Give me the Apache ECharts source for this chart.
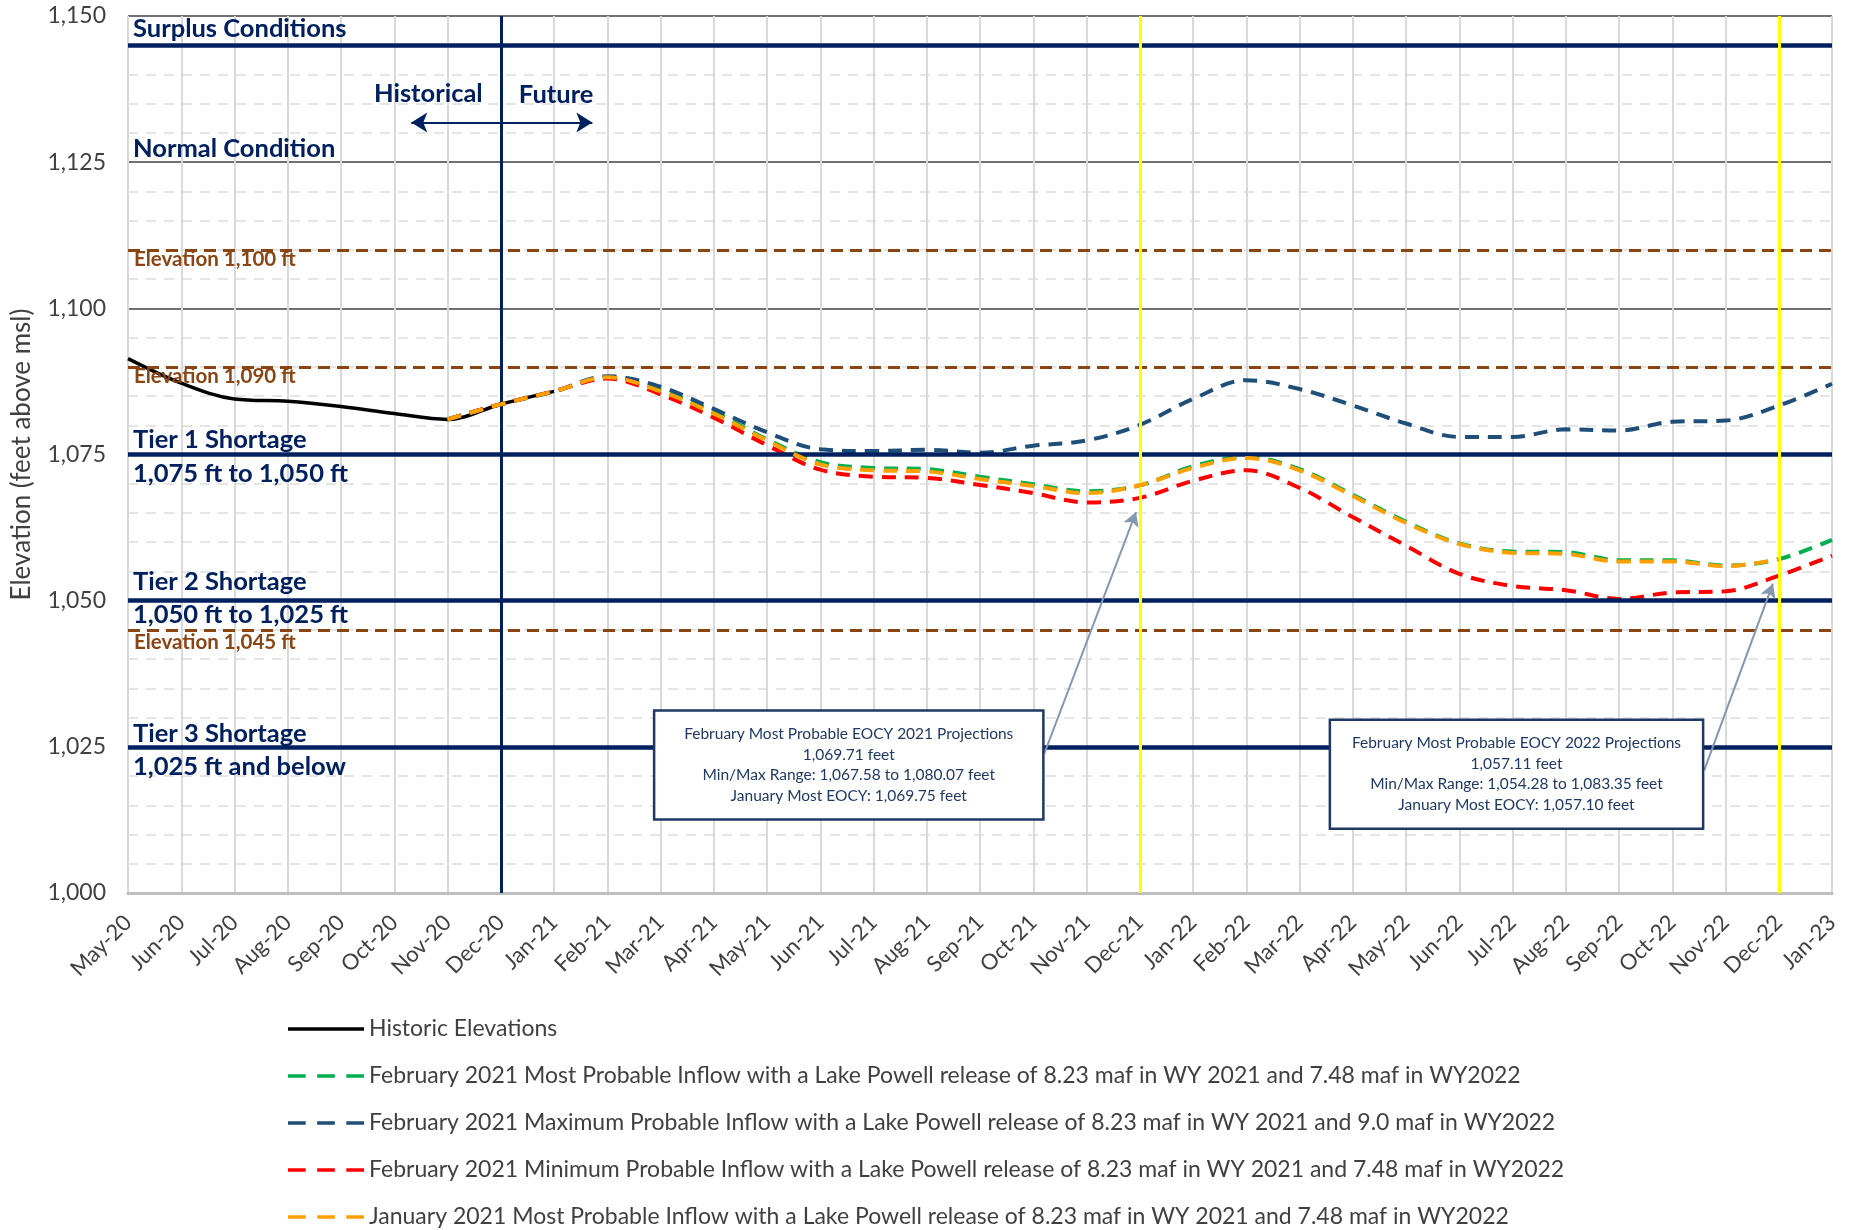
<!DOCTYPE html>
<html>
<head>
<meta charset="utf-8">
<script src="https://cdn.jsdelivr.net/npm/echarts@6/dist/echarts.min.js"></script>
<style>
html,body{margin:0;padding:0;background:#ffffff;}
#c{width:1853px;height:1230px;}
</style>
</head>
<body>
<div id="c"></div>
<script>
// ---------- DATA ----------
const categories = ['May-20','Jun-20','Jul-20','Aug-20','Sep-20','Oct-20','Nov-20','Dec-20',
  'Jan-21','Feb-21','Mar-21','Apr-21','May-21','Jun-21','Jul-21','Aug-21','Sep-21','Oct-21','Nov-21','Dec-21',
  'Jan-22','Feb-22','Mar-22','Apr-22','May-22','Jun-22','Jul-22','Aug-22','Sep-22','Oct-22','Nov-22','Dec-22',
  'Jan-23'];

const historic = [1091.4,1087.2,1084.5,1084.1,1083.2,1082.0,1081.0,1083.6,1085.8];

const febMostProbable = [null,null,null,null,null,null,
  1081.0,1083.6,1085.8,1088.2,1086.0,1082.3,1077.6,1073.7,1072.7,1072.5,1071.2,1069.9,1068.7,1069.71,
  1073.0,1074.6,1072.5,1068.1,1063.5,1059.8,1058.4,1058.3,1056.9,1056.9,1056.0,1057.11,1060.4];

const febMaxProbable = [null,null,null,null,null,null,
  1081.0,1083.6,1085.8,1088.4,1086.6,1082.8,1078.8,1075.9,1075.6,1075.8,1075.3,1076.5,1077.4,1080.07,
  1084.5,1087.7,1086.2,1083.4,1080.3,1078.0,1078.0,1079.3,1079.1,1080.6,1080.8,1083.35,1087.1];

const febMinProbable = [null,null,null,null,null,null,
  1081.0,1083.6,1085.8,1088.0,1085.3,1081.3,1076.6,1072.4,1071.2,1071.0,1069.8,1068.4,1066.8,1067.58,
  1070.5,1072.3,1069.3,1064.3,1059.4,1054.6,1052.5,1051.8,1050.3,1051.4,1051.6,1054.28,1057.7];

const janMostProbable = [null,null,null,null,null,null,
  1081.0,1083.6,1085.8,1088.2,1085.8,1082.0,1077.4,1073.3,1072.3,1072.1,1070.8,1069.6,1068.4,1069.75,
  1072.7,1074.4,1072.3,1067.9,1063.3,1059.7,1058.2,1058.0,1056.7,1056.7,1055.9,1057.10];

const seriesNames = [
  'Historic Elevations',
  'February 2021 Most Probable Inflow with a Lake Powell release of 8.23 maf in WY 2021 and 7.48 maf in WY2022',
  'February 2021 Maximum Probable Inflow with a Lake Powell release of 8.23 maf in WY 2021 and 9.0 maf in WY2022',
  'February 2021 Minimum Probable Inflow with a Lake Powell release of 8.23 maf in WY 2021 and 7.48 maf in WY2022',
  'January 2021 Most Probable Inflow with a Lake Powell release of 8.23 maf in WY 2021 and 7.48 maf in WY2022'
];

const yTicks = [1000, 1025, 1050, 1075, 1100, 1125, 1150];

const tierLevels = [1145, 1075, 1050, 1025];
const elevationLevels = [1110, 1090, 1045];

const levelLabels = [
  {value: 1145, text: 'Surplus Conditions', kind: 'tier'},
  {value: 1125, text: 'Normal Condition', kind: 'tier'},
  {value: 1110, text: 'Elevation 1,100 ft', kind: 'elev'},
  {value: 1090, text: 'Elevation 1,090 ft', kind: 'elev'},
  {value: 1075, text: 'Tier 1 Shortage', kind: 'tier'},
  {value: 1075, text: '1,075 ft to 1,050 ft', kind: 'tier'},
  {value: 1050, text: 'Tier 2 Shortage', kind: 'tier'},
  {value: 1050, text: '1,050 ft to 1,025 ft', kind: 'tier'},
  {value: 1045, text: 'Elevation 1,045 ft', kind: 'elev'},
  {value: 1025, text: 'Tier 3 Shortage', kind: 'tier'},
  {value: 1025, text: '1,025 ft and below', kind: 'tier'}
];

const dividerMonth = 'Dec-20';
const eocyMonths = ['Dec-21', 'Dec-22'];

const annotations = [
  {lines: ['February Most Probable EOCY 2021 Projections','1,069.71 feet','Min/Max Range: 1,067.58 to 1,080.07 feet','January Most EOCY: 1,069.75 feet'],
   topLeft: [9.88, 1031.2], bottomRight: [17.19, 1012.55], from: [17.21, 1023.9], to: [18.93, 1065.15]},
  {lines: ['February Most Probable EOCY 2022 Projections','1,057.11 feet','Min/Max Range: 1,054.28 to 1,083.35 feet','January Most EOCY: 1,057.10 feet'],
   topLeft: [22.57, 1029.65], bottomRight: [29.58, 1011.0], from: [29.6, 1020.98], to: [30.89, 1052.9]}
];

const histFuture = {historical: [5.64, 1136.7], future: [8.04, 1136.5], arrowFrom: [5.32, 1131.8], arrowTo: [8.72, 1131.8]};

// ---------- STYLE ----------
const FONT = 'Lato, Carlito, "Liberation Sans", sans-serif';
const NAVY = '#002060';
const BROWN = '#8B4513';
const TEXTC = '#404040';
const COLORS = ['#000000', '#00B050', '#1F4E79', '#FF0000', '#FFA000'];

// vertical pixel offsets of the reference-level labels (style)
const labelOffset = {
  'Surplus Conditions': -16.5, 'Normal Condition': -13.5,
  'Elevation 1,100 ft': 10, 'Elevation 1,090 ft': 10, 'Elevation 1,045 ft': 12.5,
  'Tier 1 Shortage': -15, '1,075 ft to 1,050 ft': 19.5,
  'Tier 2 Shortage': -18.5, '1,050 ft to 1,025 ft': 14.5,
  'Tier 3 Shortage': -13.5, '1,025 ft and below': 20
};

const SOLID_ICON = 'path://M0,0h73v3.5h-73z';
const DASH_ICON = 'path://M0,0h17v3.5h-17z M28,0h17v3.5h-17z M56,0h17v3.5h-17z';

const chart = echarts.init(document.getElementById('c'));

function dashed(name, data, color, z) {
  return {
    name: name, type: 'line', data: data, xAxisIndex: 0, yAxisIndex: 0,
    symbol: 'none', smooth: 0.35, connectNulls: false, z: z,
    lineStyle: {color: color, width: 4, type: [14, 9]},
    itemStyle: {color: color}
  };
}

const idx = (m) => categories.indexOf(m);

const refMarkData = [];
tierLevels.forEach(v => refMarkData.push({yAxis: v, lineStyle: {color: NAVY, width: 4.5, type: 'solid'}}));
elevationLevels.forEach(v => refMarkData.push({yAxis: v, lineStyle: {color: BROWN, width: 3, type: [12, 7]}}));
refMarkData.push({xAxis: idx(dividerMonth), lineStyle: {color: NAVY, width: 3, type: 'solid'}});
eocyMonths.forEach(m => refMarkData.push({xAxis: idx(m), lineStyle: {color: '#FFFF00', width: 3, type: 'solid'}}));

const arrowData = annotations.map(a => [{coord: a.from}, {coord: a.to}]);

const option = {
  animation: false,
  backgroundColor: '#ffffff',
  textStyle: {fontFamily: FONT},
  grid: {left: 128, right: 21, top: 16, bottom: 337, containLabel: false},
  legend: {
    orient: 'vertical', left: 288, top: 1017, padding: 0, height: 240,
    itemWidth: 76, itemHeight: 14, itemGap: 23,
    symbolKeepAspect: true,
    textStyle: {fontFamily: FONT, fontSize: 23, color: TEXTC, lineHeight: 24},
    data: seriesNames.map((n, i) => ({name: n, icon: i === 0 ? SOLID_ICON : DASH_ICON,
      itemStyle: {color: COLORS[i], borderWidth: 0}}))
  },
  xAxis: [
    {
      type: 'category', data: categories, boundaryGap: false, gridIndex: 0,
      axisLine: {show: true, lineStyle: {color: '#BFBFBF', width: 3}},
      axisTick: {show: false},
      axisLabel: {interval: 0, rotate: 45, margin: 26, fontSize: 22, color: TEXTC, fontFamily: FONT},
      splitLine: {show: true, interval: 0, lineStyle: {color: '#D9D9D9', width: 2}}
    },
    {type: 'value', min: 0, max: categories.length - 1, show: false, gridIndex: 0}
  ],
  yAxis: {
    type: 'value', min: yTicks[0], max: yTicks[yTicks.length - 1], interval: 25,
    name: 'Elevation (feet above msl)', nameLocation: 'middle', nameGap: 93,
    nameTextStyle: {fontSize: 26, color: TEXTC, fontFamily: FONT},
    axisLine: {show: false}, axisTick: {show: false},
    axisLabel: {fontSize: 23, color: TEXTC, margin: 22, fontFamily: FONT,
      formatter: v => v.toLocaleString('en-US')},
    splitLine: {show: true, lineStyle: {color: '#404040', width: 1.5}},
    minorTick: {show: false, splitNumber: 5},
    minorSplitLine: {show: true, lineStyle: {color: '#DDDDDD', width: 1.5, type: [10, 8]}}
  },
  series: [
    {name: seriesNames[0], type: 'line', data: historic, symbol: 'none', smooth: 0.35, z: 3,
     lineStyle: {color: COLORS[0], width: 3.5, type: 'solid'}, itemStyle: {color: COLORS[0]}},
    dashed(seriesNames[1], febMostProbable, COLORS[1], 4),
    dashed(seriesNames[2], febMaxProbable, COLORS[2], 4),
    dashed(seriesNames[3], febMinProbable, COLORS[3], 4),
    dashed(seriesNames[4], janMostProbable, COLORS[4], 5),
    {
      name: 'refs', type: 'line', data: [], xAxisIndex: 1, yAxisIndex: 0, z: 2, silent: true,
      markLine: {silent: true, symbol: 'none', label: {show: false}, animation: false, data: refMarkData}
    },
    {
      name: 'arrows', type: 'line', data: [], xAxisIndex: 1, yAxisIndex: 0, z: 8, silent: true,
      markLine: {silent: true, symbol: ['none', 'arrow'], symbolSize: [12, 14], label: {show: false}, animation: false,
        lineStyle: {color: '#8497B0', width: 2, type: 'solid'}, data: arrowData}
    },
    {
      name: 'histfuture', type: 'line', data: [], xAxisIndex: 1, yAxisIndex: 0, z: 8, silent: true,
      markLine: {silent: true, symbol: ['arrow', 'arrow'], symbolSize: [15, 16], label: {show: false}, animation: false,
        lineStyle: {color: NAVY, width: 2, type: 'solid'},
        data: [[{coord: histFuture.arrowFrom}, {coord: histFuture.arrowTo}]]}
    }
  ]
};

chart.setOption(option);

// ---------- TEXT GRAPHICS positioned through the axes ----------
const REF = 5; // series index using hidden value x axis
const P = (pt) => chart.convertToPixel({seriesIndex: REF}, pt);
const g = [];
const leftX = P([0, 1100])[0];

levelLabels.forEach(l => {
  const y = P([0, l.value])[1];
  const isTier = l.kind === 'tier';
  g.push({
    type: 'text', z: 20, x: leftX + (isTier ? 5 : 6), y: y + labelOffset[l.text],
    style: {text: l.text, fill: isTier ? NAVY : BROWN,
      fontFamily: FONT, fontWeight: 'bold', fontSize: isTier ? 25.5 : 20.5,
      align: 'left', verticalAlign: 'middle', textAlign: 'left', textVerticalAlign: 'middle'}
  });
});

[['Historical', histFuture.historical], ['Future', histFuture.future]].forEach(([t, pt]) => {
  const p = P(pt);
  g.push({type: 'text', z: 20, x: p[0], y: p[1],
    style: {text: t, fill: NAVY, fontFamily: FONT, fontWeight: 'bold', fontSize: 25.5,
      align: 'center', verticalAlign: 'middle', textAlign: 'center', textVerticalAlign: 'middle'}});
});

annotations.forEach(a => {
  const tl = P(a.topLeft), br = P(a.bottomRight);
  const w = br[0] - tl[0], h = br[1] - tl[1];
  g.push({type: 'rect', z: 30, shape: {x: tl[0], y: tl[1], width: w, height: h},
    style: {fill: '#ffffff', stroke: '#1F3864', lineWidth: 2.5}});
  const cx = tl[0] + w / 2;
  const lh = 20.5;
  const y0 = tl[1] + h / 2 - lh * 1.5;
  a.lines.forEach((ln, i) => {
    g.push({type: 'text', z: 31, x: cx, y: y0 + i * lh,
      style: {text: ln, fill: '#1F3864', fontFamily: FONT, fontSize: 15.5,
        align: 'center', verticalAlign: 'middle', textAlign: 'center', textVerticalAlign: 'middle'}});
  });
});

chart.setOption({graphic: g});
</script>
</body>
</html>
